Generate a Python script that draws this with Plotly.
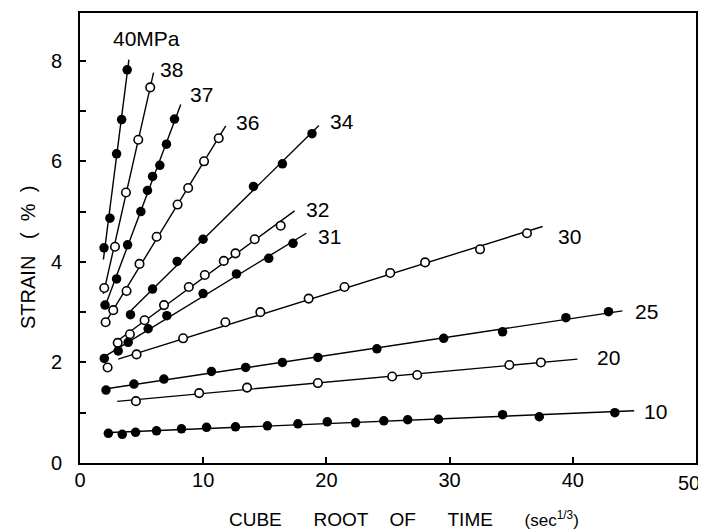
import numpy as np
import plotly.graph_objects as go

# ---- data ----
series_names = ["40MPa", "38", "37", "36", "34", "32", "31", "30", "25", "20", "10"]
series_open = [False, True, False, True, False, True, False, True, False, True, False]

x_40 = [1.95, 2.43, 2.97, 3.38, 3.83]
y_40 = [4.28, 4.87, 6.15, 6.83, 7.82]

x_38 = [1.97, 2.84, 3.73, 4.73, 5.70]
y_38 = [3.48, 4.30, 5.38, 6.43, 7.47]

x_37 = [2.03, 2.97, 3.86, 4.94, 5.48, 5.89, 6.48, 7.02, 7.67]
y_37 = [3.14, 3.66, 4.34, 5.00, 5.42, 5.70, 5.92, 6.34, 6.84]

x_36 = [2.08, 2.70, 3.78, 4.83, 6.22, 7.92, 8.78, 10.07, 11.26]
y_36 = [2.80, 3.04, 3.42, 3.96, 4.50, 5.14, 5.47, 6.00, 6.46]

x_34 = [4.10, 5.89, 7.89, 9.99, 14.08, 16.43, 18.83]
y_34 = [2.95, 3.46, 4.01, 4.45, 5.50, 5.95, 6.55]

x_32 = [3.06, 4.05, 5.24, 6.82, 8.83, 10.13, 11.67, 12.62, 14.18, 16.29]
y_32 = [2.39, 2.56, 2.84, 3.14, 3.50, 3.74, 4.02, 4.17, 4.45, 4.72]

x_31 = [1.97, 3.10, 3.91, 5.53, 7.05, 9.99, 12.70, 15.32, 17.29]
y_31 = [2.08, 2.23, 2.40, 2.67, 2.93, 3.37, 3.76, 4.07, 4.37]

x_30 = [2.24, 4.59, 8.37, 11.80, 14.64, 18.56, 21.47, 25.18, 28.01, 32.47, 36.28]
y_30 = [1.90, 2.16, 2.48, 2.80, 3.00, 3.27, 3.50, 3.78, 3.99, 4.25, 4.57]

x_25 = [2.11, 4.38, 6.81, 10.67, 13.45, 16.43, 19.31, 24.10, 29.52, 34.30, 39.44, 42.90]
y_25 = [1.45, 1.57, 1.67, 1.82, 1.90, 2.00, 2.10, 2.27, 2.48, 2.61, 2.89, 3.01]

x_20 = [4.54, 9.67, 13.56, 19.31, 25.34, 27.37, 34.85, 37.41]
y_20 = [1.23, 1.39, 1.50, 1.59, 1.72, 1.75, 1.95, 2.00]

x_10 = [2.30, 3.43, 4.51, 6.21, 8.24, 10.27, 12.62, 15.21, 17.69, 20.07, 22.37,
        24.66, 26.60, 29.10, 34.30, 37.28, 43.41]
y_10 = [0.59, 0.57, 0.61, 0.64, 0.68, 0.71, 0.72, 0.74, 0.78, 0.82, 0.80,
        0.84, 0.86, 0.87, 0.96, 0.92, 1.00]

# extent (in x) over which each fitted line is drawn
fit_x_start = [1.90, 1.90, 2.00, 2.00, 4.00, 2.80, 1.95, 3.10, 2.00, 3.02, 1.95]
fit_x_end = [3.97, 5.97, 8.18, 11.83, 19.39, 17.42, 18.37, 37.55, 44.03, 40.38, 44.98]

x_ticks = [0, 10, 20, 30, 40]
x_last_tick = 50
y_ticks = [0, 2, 4, 6, 8]

all_x = [x_40, x_38, x_37, x_36, x_34, x_32, x_31, x_30, x_25, x_20, x_10]
all_y = [y_40, y_38, y_37, y_36, y_34, y_32, y_31, y_30, y_25, y_20, y_10]

# label placement (layout, data coordinates of text centre)
LABEL_POS = {
    "40MPa": (5.43, 8.44), "38": (7.46, 7.82), "37": (9.9, 7.32), "36": (13.6, 6.78),
    "34": (21.25, 6.79), "32": (19.3, 5.04), "31": (20.26, 4.51), "30": (39.7, 4.51),
    "25": (46.0, 3.02), "20": (42.9, 2.10), "10": (46.7, 1.02),
}

FONT = "Liberation Sans, Arial, sans-serif"

fig = go.Figure()

# fitted lines
for name, xs, ys, x0, x1 in zip(series_names, all_x, all_y, fit_x_start, fit_x_end):
    m, b = np.polyfit(np.array(xs), np.array(ys), 1)
    lx = np.array([x0, x1])
    fig.add_trace(go.Scatter(x=lx, y=m * lx + b, mode="lines",
                             line=dict(color="black", width=1.4),
                             showlegend=False, hoverinfo="skip"))

# data points
for name, xs, ys, is_open in zip(series_names, all_x, all_y, series_open):
    if is_open:
        marker = dict(symbol="circle", size=8.5, color="white",
                      line=dict(color="black", width=1.6))
    else:
        marker = dict(symbol="circle", size=9.5, color="black",
                      line=dict(color="black", width=0))
    fig.add_trace(go.Scatter(x=xs, y=ys, mode="markers", marker=marker,
                             name=name, showlegend=False))

for name in series_names:
    lx, ly = LABEL_POS[name]
    fig.add_annotation(x=lx, y=ly, xref="x", yref="y", text=name, showarrow=False,
                       xanchor="center", yanchor="middle",
                       font=dict(family=FONT, size=21, color="black"))

# last x tick label, nudged left so it stays inside the page (as in the reference)
fig.add_annotation(x=x_last_tick, y=0, xref="x", yref="y", text=str(x_last_tick),
                   showarrow=False, xanchor="right", yanchor="middle",
                   xshift=6, yshift=-20,
                   font=dict(family=FONT, size=20, color="black"))

nb = "\u00a0"
xtitle = ("CUBE" + nb * 6 + "ROOT" + nb * 4 + "OF" + nb * 6 + "TIME" + nb * 6 +
          "<span style='font-size:17px'>(sec<sup>1/3</sup>)</span>")
fig.add_annotation(x=0.526, y=-0.124, xref="paper", yref="paper", text=xtitle,
                   showarrow=False, xanchor="center", yanchor="middle",
                   font=dict(family=FONT, size=19, color="black"))
ytitle = "STRAIN" + nb * 3 + "(" + nb * 2 + "%" + nb * 2 + ")"
fig.add_annotation(x=-0.0844, y=0.4556, xref="paper", yref="paper", text=ytitle,
                   showarrow=False, xanchor="center", yanchor="middle", textangle=-90,
                   font=dict(family=FONT, size=20, color="black"))

fig.update_xaxes(range=[0, 50], tickvals=x_ticks, ticktext=[str(v) for v in x_ticks],
                 showline=True, linecolor="black", linewidth=2, mirror=True,
                 ticks="inside", ticklen=6, tickwidth=1.5, tickcolor="black",
                 showgrid=False, zeroline=False, ticklabelstandoff=-2, automargin=False,
                 tickfont=dict(family=FONT, size=20, color="black"))
fig.update_yaxes(range=[0, 8.95], tickvals=y_ticks, ticktext=[str(v) for v in y_ticks],
                 showline=True, linecolor="black", linewidth=2, mirror=True,
                 ticks="inside", ticklen=6, tickwidth=1.5, tickcolor="black",
                 minor=dict(ticks="inside", ticklen=6, tickwidth=1.5, tickcolor="black",
                            dtick=1, showgrid=False),
                 showgrid=False, zeroline=False, ticklabelstandoff=12, automargin=False,
                 tickfont=dict(family=FONT, size=20, color="black"))

# the page body adds an 8px offset, so the figure is sized to fit the window
fig.update_layout(width=698, height=524, margin=dict(l=72, r=10, t=5, b=69),
                  plot_bgcolor="white", paper_bgcolor="white", showlegend=False)

fig.write_html("out.html")
